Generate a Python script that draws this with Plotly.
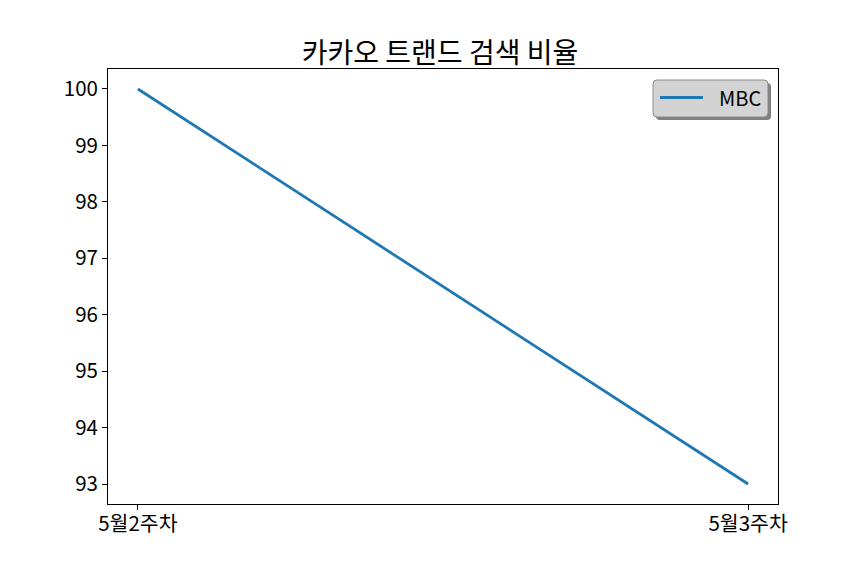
import plotly.graph_objects as go

categories = ["5월2주차", "5월3주차"]
mbc_values = [100, 93]
y_ticks = [93, 94, 95, 96, 97, 98, 99, 100]
series_name = "MBC"

FONT = "Noto Sans CJK KR, Malgun Gothic, sans-serif"
OFF = 8  # page body margin
L, R, T, B = 108, 778, 69, 504  # screen pixel coords of plot area
W, H = R - L, B - T
LINE_COLOR = "#1f77b4"

def px(x):
    return (x - L) / W

def py(y):
    return (B - y) / H

def rounded_rect(x0, y0, x1, y1, r):
    rx, ry = r / W, r / H
    a0, a1 = px(x0), px(x1)
    b0, b1 = py(y1), py(y0)  # bottom, top in paper
    return (f"M {a0+rx},{b0} L {a1-rx},{b0} Q {a1},{b0} {a1},{b0+ry} "
            f"L {a1},{b1-ry} Q {a1},{b1} {a1-rx},{b1} L {a0+rx},{b1} "
            f"Q {a0},{b1} {a0},{b1-ry} L {a0},{b0+ry} Q {a0},{b0} {a0+rx},{b0} Z")

fig = go.Figure()
fig.add_trace(go.Scatter(x=categories, y=mbc_values, mode="lines", name=series_name,
                         line=dict(color=LINE_COLOR, width=2.8), showlegend=False))

fig.update_layout(
    width=864, height=576,
    margin=dict(l=L - OFF, r=864 - R + OFF, t=T - OFF, b=576 - B + OFF),
    paper_bgcolor="white", plot_bgcolor="white",
    title=dict(text="카카오 트랜드 검색 비율", x=0.5, xanchor="center",
               y=1 - (53 - OFF) / 576, yanchor="middle",
               font=dict(family=FONT, size=28, color="black")),
    showlegend=False,
    font=dict(family=FONT, size=20, color="black"),
)
fig.update_xaxes(type="category", range=[-0.049, 1.049], showgrid=False,
                 showline=True, linecolor="black", linewidth=1, mirror=True,
                 ticks="outside", ticklen=5, tickcolor="black", ticklabelstandoff=-4,
                 tickfont=dict(family=FONT, size=20.5, color="black"), zeroline=False)
fig.update_yaxes(range=[92.646, 100.354], tickvals=y_ticks, showgrid=False,
                 showline=True, linecolor="black", linewidth=1, mirror=True,
                 ticks="outside", ticklen=5, tickcolor="black",
                 tickfont=dict(family=FONT, size=20.5, color="black"), zeroline=False)

# manual legend: shadow, box, line sample, label
fig.add_shape(type="path", xref="paper", yref="paper",
              path=rounded_rect(656, 83, 771, 120, 4),
              fillcolor="#808080", line=dict(width=0), layer="above")
fig.add_shape(type="path", xref="paper", yref="paper",
              path=rounded_rect(653, 80, 768, 117, 4),
              fillcolor="#d3d3d3", line=dict(color="#8a8a8a", width=1), layer="above")
fig.add_shape(type="line", xref="paper", yref="paper",
              x0=px(660), x1=px(703), y0=py(97.5), y1=py(97.5),
              line=dict(color=LINE_COLOR, width=2.8), layer="above")
fig.add_annotation(text=series_name, xref="paper", yref="paper",
                   x=px(717), y=py(97.5), xanchor="left", yanchor="middle",
                   showarrow=False, font=dict(family=FONT, size=20, color="black"))

fig.write_html("out.html")
